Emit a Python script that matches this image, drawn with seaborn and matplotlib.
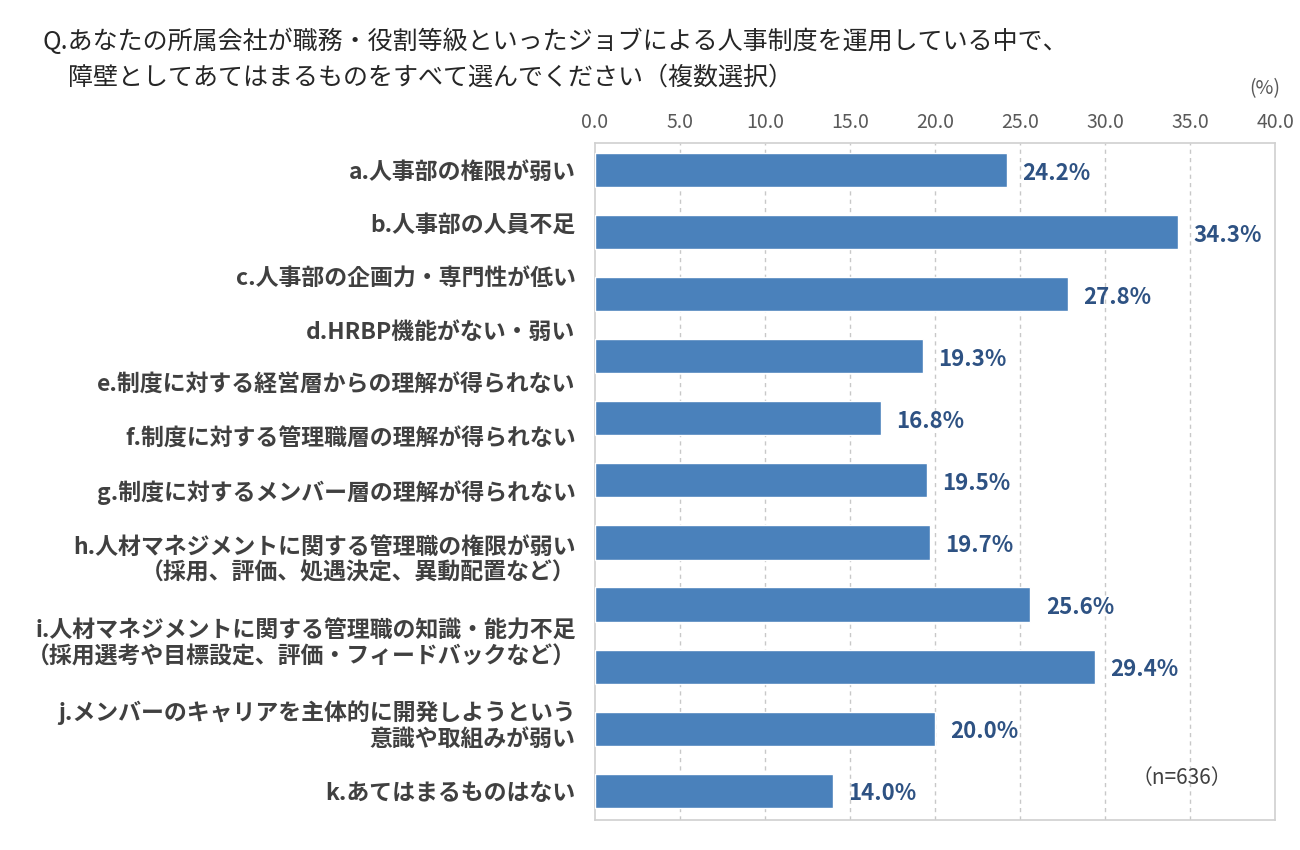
import numpy as np
import pandas as pd
import matplotlib
matplotlib.use("Agg")
import matplotlib.pyplot as plt
import seaborn as sns

sns.set_style("white")
plt.rcParams['font.family'] = ['Noto Sans CJK JP', 'DejaVu Sans']

categories = [
    "a.人事部の権限が弱い",
    "b.人事部の人員不足",
    "c.人事部の企画力・専門性が低い",
    "d.HRBP機能がない・弱い",
    "e.制度に対する経営層からの理解が得られない",
    "f.制度に対する管理職層の理解が得られない",
    "g.制度に対するメンバー層の理解が得られない",
    "h.人材マネジメントに関する管理職の権限が弱い\n（採用、評価、処遇決定、異動配置など）",
    "i.人材マネジメントに関する管理職の知識・能力不足\n（採用選考や目標設定、評価・フィードバックなど）",
    "j.メンバーのキャリアを主体的に開発しようという\n意識や取組みが弱い",
    "k.あてはまるものはない",
]
values = [24.2, 34.3, 27.8, 19.3, 16.8, 19.5, 19.7, 25.6, 29.4, 20.0, 14.0]
# label positions as drawn in the original (not centred on the bars)
label_pos = [0, 0.85, 1.72, 2.58, 3.43, 4.30, 5.15, 6.23, 7.58, 8.89, 10]
xticks = [0, 5, 10, 15, 20, 25, 30, 35, 40]

df = pd.DataFrame({"cat": categories, "val": values})

fig = plt.figure(figsize=(13, 8.5), dpi=100)
ax = fig.add_axes([0.4577, 0.0353, 0.5233, 0.7965])

sns.barplot(data=df, x="val", y="cat", color="#4A81BB", width=0.55,
            saturation=1, ax=ax, orient="h", zorder=3)

ax.set_xlim(0, 40)
ax.set_ylim(10.47, -0.435)
ax.set_xticks(xticks)
ax.set_xticklabels([f"{t:.1f}" for t in xticks], fontsize=14, color="#595959")
ax.xaxis.tick_top()
ax.tick_params(axis="x", length=0, pad=7)
ax.set_xlabel("")
ax.set_ylabel("")

ax.set_yticks(label_pos)
ax.set_yticklabels(categories, fontsize=16.5, color="#404040", fontweight="bold",
                   linespacing=1.12)
ax.tick_params(axis="y", length=0, pad=14)

for x in xticks[1:-1]:
    ax.axvline(x, color="#C8C8C8", lw=1, ls=(0, (3, 3)), zorder=1)
for s in ax.spines.values():
    s.set_color("#D0D0D0")
    s.set_linewidth(1.2)

for i, v in enumerate(values):
    ax.text(v + 0.9, i + 0.05, f"{v:.1f}%", va="center", ha="left",
            fontsize=16, fontweight="bold", color="#2E5283")

ax.text(34.5, 9.79, "（n=636）", fontsize=15, color="#404040", ha="center", va="center")

fig.text(0.033, 0.951, "Q.あなたの所属会社が職務・役割等級といったジョブによる人事制度を運用している中で、",
         fontsize=18, color="#262626", va="center")
fig.text(0.052, 0.909, "障壁としてあてはまるものをすべて選んでください（複数選択）",
         fontsize=18, color="#262626", va="center")
fig.text(0.973, 0.896, "(%)", fontsize=14, color="#595959", ha="center", va="center")

fig.savefig("out.png", dpi=100)
